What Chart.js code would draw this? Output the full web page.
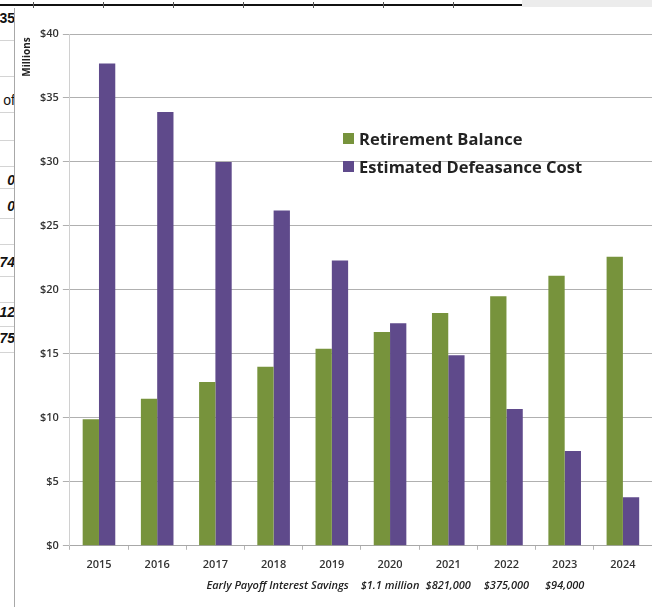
<!DOCTYPE html>
<html>
<head>
<meta charset="utf-8">
<script src="https://cdn.jsdelivr.net/npm/chart.js@4/dist/chart.umd.min.js"></script>
<style>
  html, body { margin: 0; padding: 0; background: #fff; }
  body { width: 652px; height: 607px; position: relative; overflow: hidden; font-family: "Open Sans", sans-serif; }
  #chart-wrap { position: absolute; left: 0; top: 0; width: 652px; height: 607px; }
  #top-rule { position: absolute; left: 0; top: 4px; width: 522px; height: 2px; background: #111; }
  #top-grey { position: absolute; left: 522px; top: 0; width: 130px; height: 7px; background: #ececec; }
  .tick-mark { position: absolute; top: 2px; width: 1px; height: 6px; background: #555; }
  #side-strip { position: absolute; left: 0; top: 8px; width: 14px; height: 599px; overflow: hidden; border-right: 1px solid #a8a8a8; }
  .cell-line { position: absolute; left: 0; width: 14px; height: 1px; background: #d4d4d4; }
  .cell-text { position: absolute; right: -1px; font: italic bold 14px "Liberation Sans", sans-serif; color: #111; white-space: nowrap; }
  #millions { position: absolute; left: 26px; top: 57px; transform: translate(-50%, -50%) rotate(-90deg); transform-origin: center; font: bold 10px "Open Sans", sans-serif; color: #222; }
  #legend { position: absolute; left: 343px; top: 124px; }
  .legend-row { display: flex; align-items: center; height: 28px; font: bold 16.5px "Open Sans", sans-serif; color: #222; }
  .legend-box { width: 11px; height: 11px; margin-right: 5px; }
</style>
</head>
<body>
<div id="top-grey"></div>
<div id="top-rule"></div>
<div id="side-strip"></div>
<div id="chart-wrap"><canvas id="chart"></canvas></div>
<div id="millions">Millions</div>
<div id="legend"></div>
<script>
// values in $ millions
const years = ["2015", "2016", "2017", "2018", "2019", "2020", "2021", "2022", "2023", "2024"];
const retirement_balance = [9.9, 11.5, 12.8, 14.0, 15.4, 16.7, 18.2, 19.5, 21.1, 22.6];
const defeasance_cost = [37.7, 33.9, 30.0, 26.2, 22.3, 17.4, 14.9, 10.7, 7.4, 3.8];
const y_ticks = [0, 5, 10, 15, 20, 25, 30, 35, 40];
const savings_labels = ["", "", "", "", "", "$1.1 million", "$821,000", "$375,000", "$94,000", ""];
const savings_caption = "Early Payoff Interest Savings";

// spreadsheet bits cut off at the left edge of the screenshot
const side_texts = [["35", 10, "normal"], ["of", 92, "plain"], ["0", 172, "bold"], ["0", 198, "bold"], ["74", 254, "bold"], ["12", 304, "bold"], ["75", 330, "bold"]];
const side_lines = [40, 76, 112, 140, 166, 188, 218, 244, 276, 302, 326, 352];
const top_ticks = [33, 103, 173, 243, 313, 383, 453];

document.addEventListener("DOMContentLoaded", () => {
  const strip = document.getElementById("side-strip");
  side_lines.forEach((y) => {
    const line = document.createElement("div");
    line.className = "cell-line";
    line.style.top = (y - 8) + "px";
    strip.appendChild(line);
  });
  side_texts.forEach(([txt, y, kind]) => {
    const el = document.createElement("div");
    el.className = "cell-text";
    el.textContent = txt;
    el.style.top = (y - 8) + "px";
    if (kind !== "bold") el.style.fontStyle = "normal";
    if (kind === "plain") el.style.fontWeight = "normal";
    strip.appendChild(el);
  });
  top_ticks.forEach((x) => {
    const t = document.createElement("div");
    t.className = "tick-mark";
    t.style.left = x + "px";
    document.body.appendChild(t);
  });

  const savings_plugin = {
    id: "savings",
    afterDraw(chart) {
      const ctx = chart.ctx;
      const x_scale = chart.scales.x;
      const y = 586;
      ctx.save();
      ctx.font = "italic 600 11px 'Open Sans', sans-serif";
      ctx.fillStyle = "#222";
      ctx.textBaseline = "middle";
      ctx.textAlign = "center";
      let first_left = null;
      savings_labels.forEach((label, i) => {
        if (!label) return;
        const cx = x_scale.getPixelForValue(i);
        ctx.fillText(label, cx, y);
        if (first_left === null) first_left = cx - ctx.measureText(label).width / 2;
      });
      ctx.textAlign = "right";
      ctx.fillText(savings_caption, first_left - 12, y);
      ctx.restore();
    },
  };

  const canvas = document.getElementById("chart");
  const chart = new Chart(canvas, {
    type: "bar",
    data: {
      labels: years,
      datasets: [
        {
          label: "Retirement Balance",
          data: retirement_balance,
          backgroundColor: "#77933c",
          categoryPercentage: 0.56,
          barPercentage: 1.0,
        },
        {
          label: "Estimated Defeasance Cost",
          data: defeasance_cost,
          backgroundColor: "#5f4a8b",
          categoryPercentage: 0.56,
          barPercentage: 1.0,
        },
      ],
    },
    options: {
      responsive: true,
      maintainAspectRatio: false,
      animation: false,
      layout: { padding: { top: 34, left: 36, right: 0, bottom: 28 } },
      plugins: {
        legend: { display: false },
        tooltip: { enabled: false },
      },
      scales: {
        x: {
          grid: {
            display: true,
            drawOnChartArea: false,
            drawTicks: true,
            tickLength: 4,
            color: "#b5b5b5",
            offset: true,
          },
          border: { display: true, color: "#a8a8a8" },
          ticks: {
            font: { family: "Open Sans", size: 11, weight: "600" },
            color: "#333",
            padding: 8,
            maxRotation: 0,
          },
        },
        y: {
          min: 0,
          max: 40,
          afterBuildTicks: (axis) => {
            axis.ticks = y_ticks.map((v) => ({ value: v }));
          },
          grid: {
            color: "#b0b0b0",
            tickLength: 7,
          },
          border: { display: true, color: "#d0d0d0" },
          ticks: {
            font: { family: "Open Sans", size: 11, weight: "600" },
            color: "#333",
            padding: 4,
            callback: (v) => "$" + v,
          },
        },
      },
    },
    plugins: [savings_plugin],
  });

  const legend = document.getElementById("legend");
  chart.data.datasets.forEach((ds) => {
    const row = document.createElement("div");
    row.className = "legend-row";
    const box = document.createElement("span");
    box.className = "legend-box";
    box.style.background = ds.backgroundColor;
    const txt = document.createElement("span");
    txt.textContent = ds.label;
    row.appendChild(box);
    row.appendChild(txt);
    legend.appendChild(row);
  });
});
</script>
</body>
</html>
